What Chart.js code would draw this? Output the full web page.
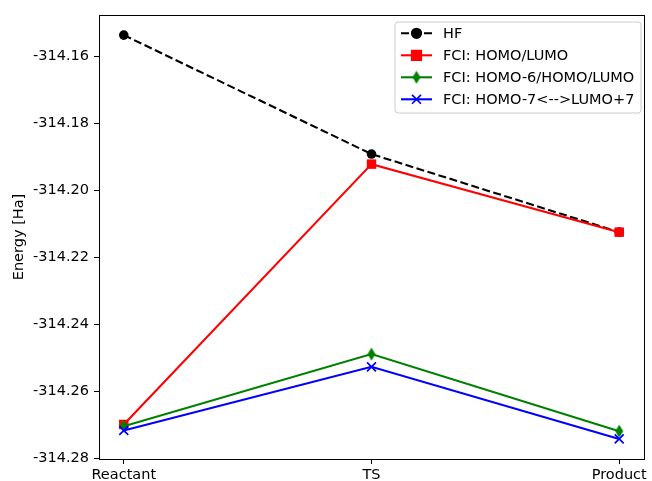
<!DOCTYPE html>
<html>
<head>
<meta charset="utf-8">
<script src="https://cdn.jsdelivr.net/npm/chart.js@4.4.1/dist/chart.umd.min.js"></script>
<style>
  html, body { margin: 0; padding: 0; background: #fff; }
  #wrap { width: 652px; height: 481px; }
</style>
</head>
<body>
<div id="wrap"><canvas id="energyChart" width="652" height="481"></canvas></div>
<script>
// categories along the reaction path
const categories = ['Reactant', 'TS', 'Product'];

// energies in Ha
const hf = [-314.1537, -314.1892, -314.2125];
const fciHomoLumo = [-314.2699, -314.1922, -314.2125];
const fciHomo6 = [-314.2704, -314.2489, -314.2719];
const fciHomo7 = [-314.2717, -314.2527, -314.2742];

const yTicks = [-314.28, -314.26, -314.24, -314.22, -314.20, -314.18, -314.16];
const yMin = -314.2802, yMax = -314.1477;

const FONT = 'DejaVu Sans';
const FSIZE = 14.5;

// thin diamond marker like matplotlib 'd'
function thinDiamond(color) {
    const c = document.createElement('canvas');
    c.width = 10; c.height = 14;
    const g = c.getContext('2d');
    g.beginPath();
    g.moveTo(5, 0.5);
    g.lineTo(9, 7);
    g.lineTo(5, 13.5);
    g.lineTo(1, 7);
    g.closePath();
    g.fillStyle = color;
    g.fill();
    return c;
}
const greenDiamond = thinDiamond('#008000');

const series = [
    { label: 'HF', data: hf, color: '#000000', style: 'circle', radius: 4.8, dash: [8, 3.5], order: 4 },
    { label: 'FCI: HOMO/LUMO', data: fciHomoLumo, color: '#ff0000', style: 'rect', radius: 6.7, dash: [], order: 3 },
    { label: 'FCI: HOMO-6/HOMO/LUMO', data: fciHomo6, color: '#008000', style: greenDiamond, radius: 6, dash: [], order: 2 },
    { label: 'FCI: HOMO-7<-->LUMO+7', data: fciHomo7, color: '#0000ff', style: 'crossRot', radius: 6.3, dash: [], order: 1 }
];

const datasets = series.map(s => ({
    label: s.label,
    data: s.data.map((v, i) => ({ x: i, y: v })),
    borderColor: s.color,
    backgroundColor: s.color,
    borderWidth: 2.1,
    borderDash: s.dash,
    pointStyle: s.style,
    pointRadius: s.radius,
    pointBorderWidth: s.style === 'crossRot' ? 1.7 : 0,
    pointBorderColor: s.color,
    pointBackgroundColor: s.color,
    order: s.order,
    tension: 0
}));

// frame + legend drawn by hand, matplotlib style
const framePlugin = {
    id: 'frame',
    afterDraw(chart) {
        const { ctx, chartArea: a } = chart;
        ctx.save();
        ctx.strokeStyle = '#000';
        ctx.lineWidth = 1;
        ctx.strokeRect(Math.round(a.left) + 0.5, Math.round(a.top) + 0.5,
            Math.round(a.right - a.left), Math.round(a.bottom - a.top));

        // legend
        const bx = 395, by = 22, bw = 246, bh = 91, r = 3;
        ctx.beginPath();
        ctx.moveTo(bx + r, by);
        ctx.arcTo(bx + bw, by, bx + bw, by + bh, r);
        ctx.arcTo(bx + bw, by + bh, bx, by + bh, r);
        ctx.arcTo(bx, by + bh, bx, by, r);
        ctx.arcTo(bx, by, bx + bw, by, r);
        ctx.closePath();
        ctx.fillStyle = 'rgba(255,255,255,0.8)';
        ctx.fill();
        ctx.strokeStyle = '#cccccc';
        ctx.stroke();

        ctx.font = FSIZE + 'px "' + FONT + '"';
        ctx.textBaseline = 'middle';
        ctx.textAlign = 'left';
        series.forEach((s, i) => {
            const y = 33.3 + i * 22;
            ctx.strokeStyle = s.color;
            ctx.lineWidth = 2.1;
            ctx.setLineDash(s.dash);
            ctx.beginPath();
            ctx.moveTo(401, y);
            ctx.lineTo(432, y);
            ctx.stroke();
            ctx.setLineDash([]);
            ctx.fillStyle = s.color;
            ctx.lineWidth = 1.7;
            Chart.helpers.drawPoint(ctx, { pointStyle: s.style, radius: s.radius, rotation: 0, borderWidth: 1.7 }, 416.5, y);
            ctx.fillStyle = '#000';
            ctx.fillText(s.label, 443, y + 1);
        });
        ctx.restore();
    }
};

function zeroPad(scale) {
    scale.paddingLeft = 0;
    scale.paddingRight = 0;
    scale.paddingTop = 0;
    scale.paddingBottom = 0;
}

new Chart(document.getElementById('energyChart').getContext('2d'), {
    type: 'line',
    data: { datasets },
    options: {
        responsive: false,
        animation: false,
        layout: { padding: { top: 15, right: 3, left: 0, bottom: 0 } },
        plugins: { legend: { display: false }, tooltip: { enabled: false } },
        scales: {
            x: {
                type: 'linear',
                min: -0.1,
                max: 2.1,
                afterBuildTicks: s => { s.ticks = categories.map((c, i) => ({ value: i })); },
                afterFit: s => { s.height = 22; zeroPad(s); },
                ticks: {
                    color: '#000',
                    font: { family: FONT, size: FSIZE },
                    padding: 3,
                    maxRotation: 0,
                    autoSkip: false,
                    callback: v => categories[v]
                },
                grid: { drawOnChartArea: false, drawTicks: true, tickLength: 5, color: '#000' },
                border: { display: false }
            },
            y: {
                type: 'linear',
                min: yMin,
                max: yMax,
                afterBuildTicks: s => { s.ticks = yTicks.map(v => ({ value: v })); },
                afterFit: s => { s.width = 99; zeroPad(s); },
                ticks: {
                    color: '#000',
                    font: { family: FONT, size: FSIZE },
                    padding: 5,
                    callback: v => v.toFixed(2)
                },
                grid: { drawOnChartArea: false, drawTicks: true, tickLength: 5, color: '#000' },
                border: { display: false },
                title: {
                    display: true,
                    text: 'Energy [Ha]',
                    color: '#000',
                    font: { family: FONT, size: FSIZE },
                    padding: { top: 11, bottom: 0 }
                }
            }
        }
    },
    plugins: [framePlugin]
});
</script>
</body>
</html>
